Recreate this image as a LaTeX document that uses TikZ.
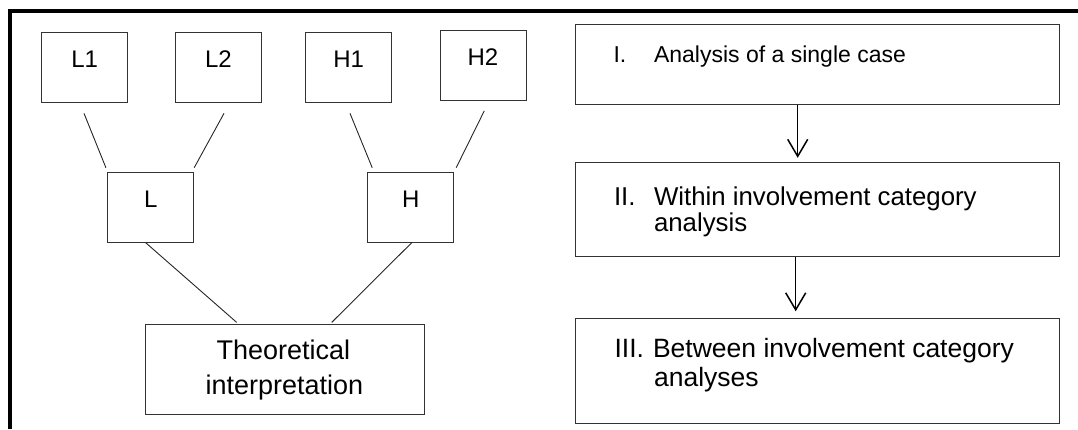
\documentclass[tikz,border=0pt]{standalone}
\usepackage{fontspec}
\setmainfont{Liberation Sans}
\usetikzlibrary{calc,arrows.meta}
\begin{document}
\begin{tikzpicture}[x=1pt,y=-1pt,
  box/.style={draw=black!80,line width=1pt,rectangle,inner sep=0pt,text height=7pt,text depth=7pt},
  small/.style={box,minimum width=86pt,minimum height=70pt,font=\fontsize{24}{28}\selectfont},
  bigbox/.style={draw=black!80,line width=1pt,rectangle,inner sep=0pt,minimum width=484pt},
  txt/.style={inner sep=0pt,anchor=base west},
  ctxt/.style={inner sep=0pt,anchor=base,font=\fontsize{27}{32}\selectfont},
  fa/.style={font=\fontsize{23}{27}\selectfont},
  fb/.style={font=\fontsize{25.8}{30}\selectfont},
  fc/.style={font=\fontsize{26.5}{31}\selectfont},
  link/.style={draw=black!85,line width=0.9pt},
  arr/.style={draw=black,line width=1.5pt,-{Straight Barb[length=17pt,width=20pt,line width=1.5pt]}}]
\useasboundingbox (0,0) rectangle (1078,429);
% frame
\draw[line width=3.8pt,line join=miter] (10.3,429) -- (10.3,10.8) -- (1078,10.8);
% left tree
\node[small] (L1) at (84.75,67.15) {L1};
\node[small] (L2) at (218.5,67.15) {L2};
\node[small] (H1) at (348.7,67.15) {H1};
\node[small] (H2) at (483,65.3) {H2};
\node[small] (L) at (150.7,207.2) {L};
\node[small] (H) at (410.7,207.2) {H};
\node[box,minimum width=279pt,minimum height=90pt,text height=0pt,text depth=0pt] (T) at (285.4,369.2) {};
\node[ctxt] (T1) at ($(T.north)+(-2,36)$) {Theoretical};
\node[ctxt] (T2) at ($(T.north)+(-1,71)$) {interpretation};
\draw[link] ($(L1.south)+(-0.75,10.7)$) -- ($(L.north west)+(-1.3,-4)$);
\draw[link] ($(L2.south)+(5.5,10.7)$) -- ($(L.north east)+(0,-4)$);
\draw[link] ($(H1.south)+(1.3,10.7)$) -- ($(H.north west)+(5,-4)$);
\draw[link] ($(H2.south)+(1.3,10)$) -- ($(H.north east)+(2,-4)$);
\draw[link] ($(L.south)+(-5,0)$) -- ($(T.north)+(-48.7,-1.3)$);
\draw[link] ($(H.south)+(1,0)$) -- ($(T.north)+(46.3,-1.3)$);
% right column
\node[bigbox,minimum height=79.7pt] (B1) at (817.85,64.15) {};
\node[bigbox,minimum height=94.4pt] (B2) at (817.85,209.5) {};
\node[bigbox,minimum height=105pt] (B3) at (817.85,370.8) {};
\node[txt,fa] (n1) at ($(B1.north west)+(38,39)$) {I.};
\node[txt,fa] (t1) at ($(B1.north west)+(78.5,39)$) {Analysis of a single case};
\node[txt,fb] (n2) at ($(B2.north west)+(38.5,43.7)$) {II.};
\node[txt,fb] (t2a) at ($(B2.north west)+(78.5,43.7)$) {Within involvement category};
\node[txt,fb] (t2b) at ($(B2.north west)+(78.5,69.5)$) {analysis};
\node[txt,fc] (n3) at ($(B3.north west)+(39,39.2)$) {III.};
\node[txt,fc] (t3a) at ($(B3.north west)+(77.5,39.2)$) {Between involvement category};
\node[txt,fc] (t3b) at ($(B3.north west)+(78.5,68.5)$) {analyses};
\draw[arr] ($(B1.south)+(-20.15,0)$) -- ($(B2.north)+(-20.15,-4)$);
\draw[arr] ($(B2.south)+(-22.15,0)$) -- ($(B3.north)+(-22.15,-6.5)$);
\end{tikzpicture}
\end{document}
